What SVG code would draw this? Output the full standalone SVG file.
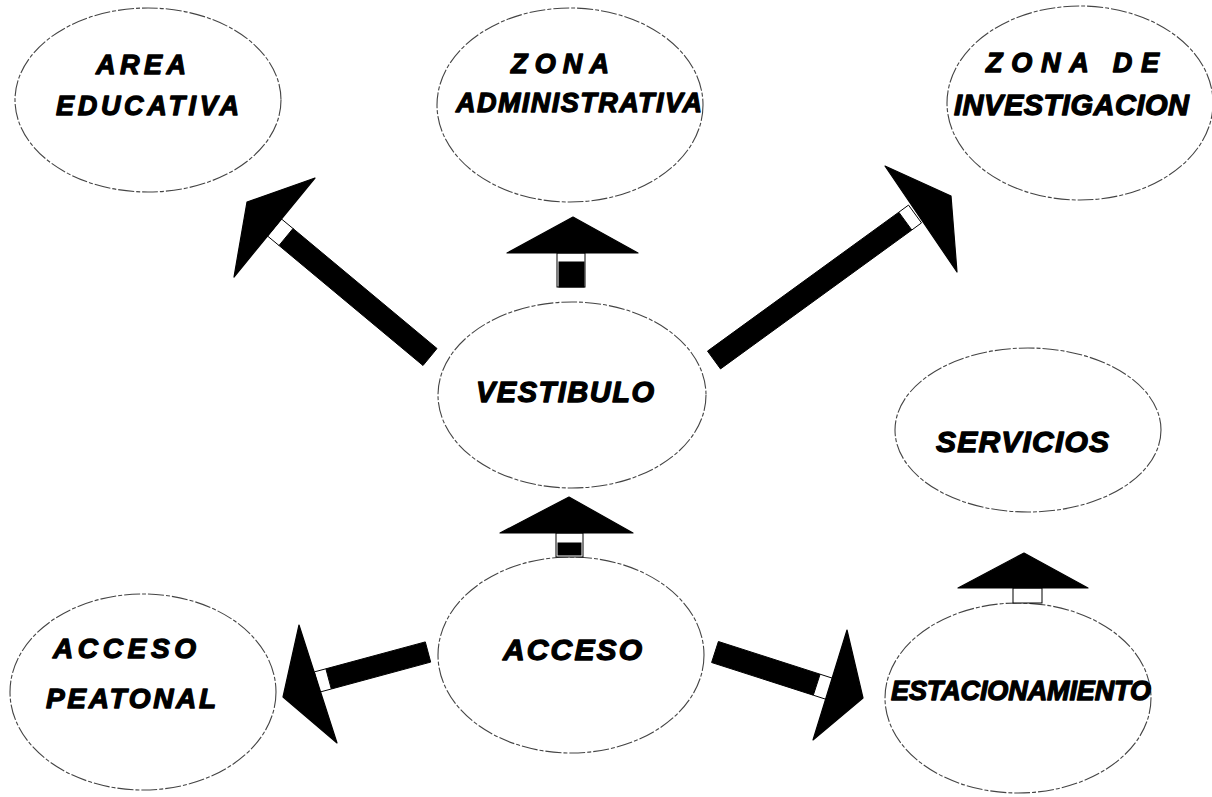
<svg xmlns="http://www.w3.org/2000/svg" width="1212" height="797" viewBox="0 0 1212 797">
<style>
.node ellipse{fill:none;stroke:#444;stroke-width:1.1;stroke-dasharray:16 2 4 2}
.lbl{font-family:"Liberation Sans",Arial,sans-serif;font-weight:bold;font-style:italic;fill:#000;stroke:#000;stroke-width:1.3;stroke-linejoin:round}
.head{fill:#000;stroke:#000;stroke-width:1.2;stroke-linejoin:round}
.shaft{fill:#000;stroke:#000;stroke-width:1}
.neck{fill:#fff;stroke:#000;stroke-width:1}
</style>
<rect width="1212" height="797" fill="#fff"/>
<g id="area-educativa" class="node">
<ellipse cx="148" cy="100" rx="133" ry="92"/>
<text class="lbl" x="96" y="74" font-size="27" textLength="90" lengthAdjust="spacing">AREA</text>
<text class="lbl" x="56" y="115" font-size="27" textLength="183" lengthAdjust="spacing">EDUCATIVA</text>
</g>
<g id="zona-administrativa" class="node">
<ellipse cx="570" cy="105" rx="133" ry="97"/>
<text class="lbl" x="511" y="73" font-size="27" textLength="98" lengthAdjust="spacing">ZONA</text>
<text class="lbl" x="456" y="112" font-size="27" textLength="246" lengthAdjust="spacing">ADMINISTRATIVA</text>
</g>
<g id="zona-investigacion" class="node">
<ellipse cx="1080" cy="103" rx="133" ry="97"/>
<text class="lbl" x="986" y="72" font-size="27" textLength="173" lengthAdjust="spacing">ZONA  DE</text>
<text class="lbl" x="954" y="115" font-size="29" textLength="235" lengthAdjust="spacing">INVESTIGACION</text>
</g>
<g id="vestibulo" class="node">
<ellipse cx="572" cy="395" rx="134" ry="93"/>
<text class="lbl" x="476" y="402" font-size="29" textLength="178" lengthAdjust="spacing">VESTIBULO</text>
</g>
<g id="servicios" class="node">
<ellipse cx="1028" cy="430" rx="133" ry="82"/>
<text class="lbl" x="936" y="452" font-size="30" textLength="173" lengthAdjust="spacing">SERVICIOS</text>
</g>
<g id="acceso" class="node">
<ellipse cx="571" cy="655" rx="133" ry="98"/>
<text class="lbl" x="503" y="660" font-size="30" textLength="139" lengthAdjust="spacing">ACCESO</text>
</g>
<g id="acceso-peatonal" class="node">
<ellipse cx="143" cy="692" rx="133" ry="98"/>
<text class="lbl" x="53" y="658" font-size="28" textLength="143" lengthAdjust="spacing">ACCESO</text>
<text class="lbl" x="46" y="708" font-size="28" textLength="170" lengthAdjust="spacing">PEATONAL</text>
</g>
<g id="estacionamiento" class="node">
<ellipse cx="1018" cy="698" rx="133" ry="95"/>
<text class="lbl" x="891" y="700" font-size="27" textLength="260" lengthAdjust="spacing">ESTACIONAMIENTO</text>
</g>
<g id="connectors">
<g id="vestibulo-area">
<polygon class="shaft" points="437,348.5 423,365.5 279,245.5 293,228.5"/>
<polygon class="neck" points="293,228.5 279,245.5 267.5,236 281.5,219"/>
<polygon class="head" points="315,178 234,277 247,202"/>
</g>
<g id="vestibulo-administrativa">
<rect class="neck" x="557" y="253" width="28" height="34"/>
<rect class="shaft" x="559" y="262" width="25" height="25"/>
<polygon class="head" points="573,217 507,253 638,253"/>
</g>
<g id="vestibulo-investigacion">
<polygon class="shaft" points="720.5,368.9 707.5,351.1 898.8,212.2 911.8,230"/>
<polygon class="neck" points="911.8,230 898.8,212.2 908.5,205.1 921.5,222.9"/>
<polygon class="head" points="885,166 957,272 951,196"/>
</g>
<g id="acceso-vestibulo">
<rect class="neck" x="556" y="533" width="27" height="24"/>
<rect class="shaft" x="558" y="543" width="23" height="12"/>
<polygon class="head" points="569,497 500,533 633,533"/>
</g>
<g id="acceso-peatonal-link">
<polygon class="shaft" points="425.3,641.9 430.7,662.1 331.3,689 325.9,668.8"/>
<polygon class="neck" points="325.9,668.8 331.3,689 319.7,692.1 314.3,671.9"/>
<polygon class="head" points="299,625 337,743 283,697"/>
</g>
<g id="acceso-estacionamiento">
<polygon class="shaft" points="718.4,641.5 711.6,662.5 813.3,695.2 820.1,674.2"/>
<polygon class="neck" points="820.1,674.2 813.3,695.2 826.6,699.5 833.4,678.5"/>
<polygon class="head" points="847,630 813,740 863,698"/>
</g>
<g id="estacionamiento-servicios">
<rect class="neck" x="1013" y="588" width="29" height="15"/>
<polygon class="head" points="1024,553 958,588 1088,588"/>
</g>
</g>
</svg>
